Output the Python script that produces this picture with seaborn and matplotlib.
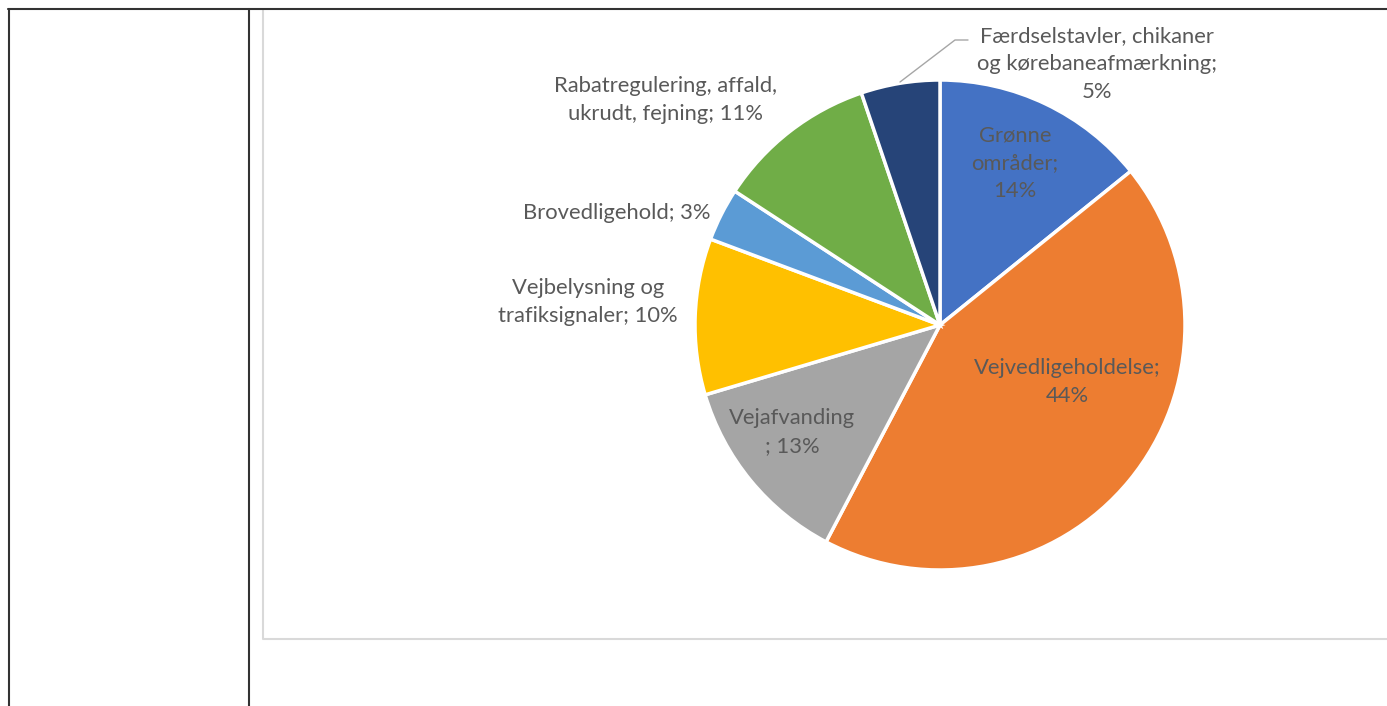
import matplotlib
matplotlib.use("Agg")
import matplotlib.pyplot as plt
import seaborn as sns

sns.set_theme(style="white")
plt.rcParams['font.family'] = ['Lato', 'DejaVu Sans']

categories = ["Grønne\nområder;\n14%", "Vejvedligeholdelse;\n44%", "Vejafvanding\n; 13%",
              "Vejbelysning og\ntrafiksignaler; 10%", "Brovedligehold; 3%",
              "Rabatregulering, affald,\nukrudt, fejning; 11%",
              "Færdselstavler, chikaner\nog kørebaneafmærkning;\n5%"]
# slice shares as measured from the slice angles in the picture
values = [14.2, 43.5, 12.7, 10.3, 3.5, 10.6, 5.2]
colors = ["#4472C4", "#ED7D31", "#A5A5A5", "#FFC000", "#5B9BD5", "#70AD47", "#264478"]
# label centres in pixel coords (x, y from top)
label_pos = [(1015, 163), (1067, 382), (792, 432), (588, 302), (617, 213), (665, 100), (1097, 64)]

W, H = 1387, 706
fig = plt.figure(figsize=(W / 100, H / 100), dpi=100)
ax = fig.add_axes([0, 0, 1, 1])

ax.pie(values, center=(940, H - 325), radius=245, startangle=90, counterclock=False,
       colors=colors, wedgeprops=dict(edgecolor="white", linewidth=2.5))

ax.set_xlim(0, W)
ax.set_ylim(0, H)
ax.set_aspect("equal")
ax.axis("off")

txtcol = "#595959"
for lab, (x, y) in zip(categories, label_pos):
    ax.text(x, H - y, lab, ha="center", va="center", fontsize=15.8, color=txtcol,
            linespacing=1.5)

# leader line for the small dark slice
ax.plot([900, 955, 968], [H - 82, H - 40, H - 40], color="#A6A6A6", lw=1)

# chart box border
ax.plot([263, 263, W + 5], [H - 10, H - 639, H - 639], color="#D9D9D9", lw=1.5)
# table borders
ax.plot([8, W + 5], [H - 8.5, H - 8.5], color="#333333", lw=1.5)
ax.plot([8.5, 8.5], [H - 8.5, -5], color="#333333", lw=1.5)
ax.plot([248.5, 248.5], [H - 8.5, -5], color="#333333", lw=1.5)

fig.savefig("out.png", dpi=100)
